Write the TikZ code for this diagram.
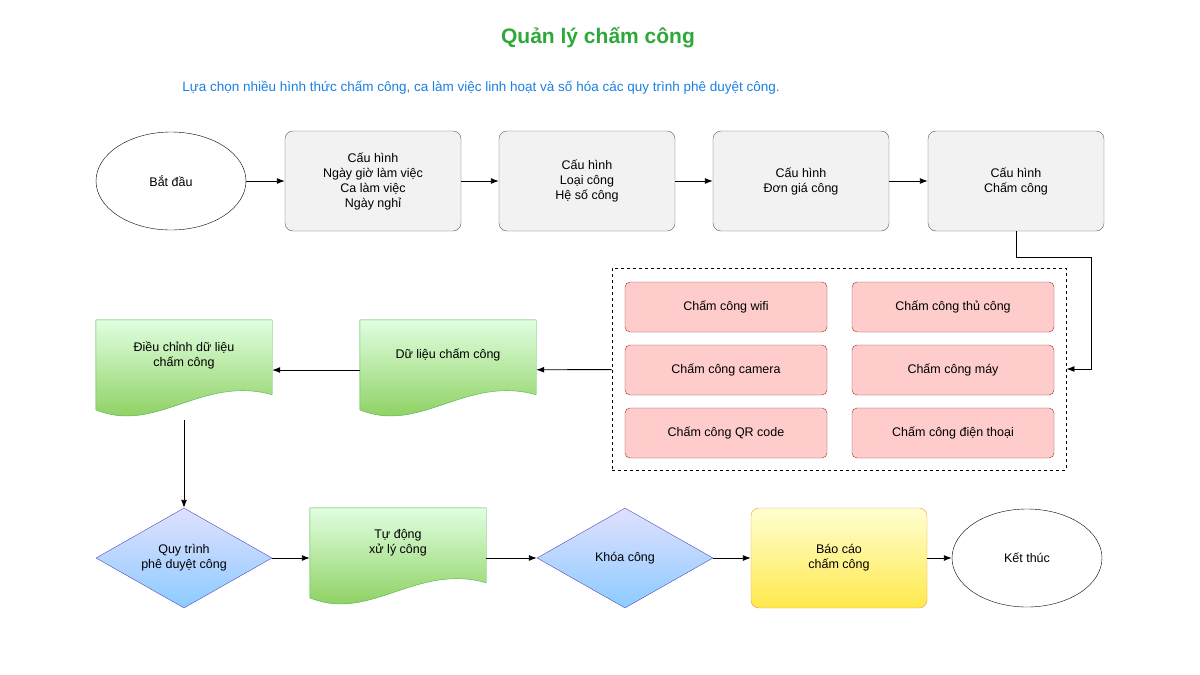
\documentclass[tikz,border=0pt]{standalone}
\usepackage{fontspec}
\setmainfont{Liberation Sans}
\usetikzlibrary{arrows.meta, shapes.geometric, calc}

\definecolor{titlegreen}{HTML}{2EA83A}
\definecolor{subblue}{HTML}{1A7FE0}

\tikzset{
    base/.style={align=center, font=\fontsize{12.5}{15}\selectfont, inner sep=2pt},
    cfgbox/.style={base, draw=black!65, fill=black!5, rounded corners=8pt, minimum width=176pt, minimum height=100pt},
    kind/.style={base, draw=red!50!black!80, fill=red!20, rounded corners=5pt, minimum width=202pt, minimum height=50pt},
    term/.style={base, ellipse, draw=black, minimum width=150pt, minimum height=98pt},
    check/.style={base, diamond, aspect=1.76, draw=blue!40!gray, top color=blue!12, bottom color=blue!45!cyan!45, minimum width=176pt, minimum height=100pt, inner sep=0pt},
    report/.style={base, draw=orange!70!brown!80, top color=yellow!18, bottom color=yellow!75!orange!70, rounded corners=8pt, minimum width=176pt, minimum height=100pt},
    doc/.style={base, minimum width=176pt, minimum height=100pt},
    flow/.style={-{Latex[length=8pt,width=6pt]}, black, line width=0.9pt},
}

% document shape around a named node
\newcommand\docshape[1]{
    \shade[draw=green!40!gray, top color=green!12, bottom color=green!45!lime!70!black!70]
        (#1.north west) -- (#1.north east) -- ($(#1.north east)+(0,75)$)
        .. controls ($(#1.north east)+(-70,55)$) and ($(#1.north west)+(60,115)$) .. ($(#1.north west)+(0,90)$)
        -- cycle;
}

\begin{document}
\begin{tikzpicture}[x=1pt, y=-1pt]
    \path[use as bounding box] (0,0) rectangle (1200,675);
    % heading
    \node[font=\fontsize{21}{25}\selectfont\bfseries, text=titlegreen](title) at (598,38) {Quản lý chấm công};
    \node[font=\fontsize{13.5}{16}\selectfont, text=subblue](sub) at (481,88) {Lựa chọn nhiều hình thức chấm công, ca làm việc linh hoạt và số hóa các quy trình phê duyệt công.};
    % configuration
    \node[term](start) at (171,181) {Bắt đầu};
    \node[cfgbox](cfg1) at (373,181) {Cấu hình\\Ngày giờ làm việc\\Ca làm việc\\Ngày nghỉ};
    \node[cfgbox](cfg2) at (587,181) {Cấu hình\\Loại công\\Hệ số công};
    \node[cfgbox](cfg3) at (801,181) {Cấu hình\\Đơn giá công};
    \node[cfgbox](cfg4) at (1016,181) {Cấu hình\\Chấm công};
    % attendance methods
    \node[draw, dashed, line width=0.9pt, minimum width=454pt, minimum height=202pt](methods) at (839,369) {};
    \node[kind](wifi) at (726,307) {Chấm công wifi};
    \node[kind](manual) at (953,307) {Chấm công thủ công};
    \node[kind](camera) at (726,370) {Chấm công camera};
    \node[kind](machine) at (953,370) {Chấm công máy};
    \node[kind](qr) at (726,433) {Chấm công QR code};
    \node[kind](phone) at (953,433) {Chấm công điện thoại};
    \coordinate (turn) at (1091,257);
    % data
    \node[doc](data) at (448,370) {};
    \docshape{data}
    \node[base](datat) at (448,355) {Dữ liệu chấm công};
    \node[doc](fix) at (184,370) {};
    \docshape{fix}
    \node[base](fixt) at (184,355) {Điều chỉnh dữ liệu\\chấm công};
    % approval
    \node[check](approve) at (184,558) {Quy trình\\phê duyệt công};
    \node[doc](auto) at (398,558) {};
    \docshape{auto}
    \node[base](autot) at (398,543) {Tự động\\xử lý công};
    \node[check](lock) at (625,558) {Khóa công};
    \node[report](rep) at (839,558) {Báo cáo\\chấm công};
    \node[term](finish) at (1027,558) {Kết thúc};
    % Transitions
    \path
        (start) edge [flow] (cfg1)
        (cfg1) edge [flow] (cfg2)
        (cfg2) edge [flow] (cfg3)
        (cfg3) edge [flow] (cfg4)
        (methods) edge [flow] (data)
        (data) edge [flow] (fix)
        (fix) edge [flow] (approve)
        (approve) edge [flow] (auto)
        (auto) edge [flow] (lock)
        (lock) edge [flow] (rep)
        (rep) edge [flow] (finish)
        ;
    \draw[flow] (cfg4.south) |- (turn) |- (methods.east);
\end{tikzpicture}
\end{document}
